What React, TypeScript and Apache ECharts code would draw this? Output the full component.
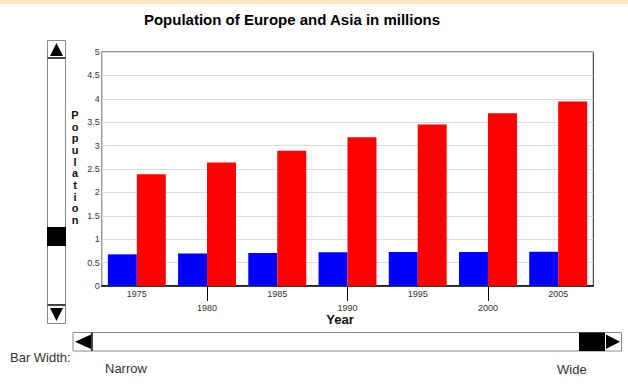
import React, { useEffect, useRef } from "react";
import * as echarts from "echarts";

const years = ["1975", "1980", "1985", "1990", "1995", "2000", "2005"];
const europe = [0.676, 0.692, 0.706, 0.72, 0.727, 0.728, 0.731];
const asia = [2.39, 2.64, 2.89, 3.18, 3.45, 3.69, 3.94];

const FONT = "'Liberation Sans', Arial, sans-serif";

export default function App() {
  const ref = useRef<HTMLDivElement>(null);
  useEffect(() => {
    document.body.style.margin = "0";
    const chart = echarts.init(ref.current!, null, { renderer: "svg" });
    const txt = (t: string, x: number, y: number, o: any = {}) => ({
      type: "text",
      x,
      y,
      style: {
        text: t,
        fill: o.fill || "#222",
        font: o.font || `13px ${FONT}`,
        textAlign: o.align || "left",
        textVerticalAlign: "middle",
        lineHeight: o.lineHeight,
      },
      z: 10,
    });
    const stroke = { stroke: "#888", lineWidth: 1, fill: "#fff" };
    chart.setOption({
      animation: false,
      grid: {
        left: 101.7,
        right: 34.7,
        top: 52,
        bottom: 99,
        show: true,
        borderColor: "#222",
        borderWidth: 1,
      },
      xAxis: [
        {
          type: "category",
          data: years,
          position: "bottom",
          axisLine: { lineStyle: { color: "#000", width: 1.5 } },
          axisTick: { show: false },
          axisLabel: {
            interval: (i: number) => i % 2 === 0,
            margin: 3,
            fontSize: 9,
            color: "#333",
            fontFamily: FONT,
          },
          splitLine: { show: false },
        },
        {
          type: "category",
          data: years,
          position: "bottom",
          axisLine: { show: false },
          axisTick: {
            show: true,
            alignWithLabel: true,
            interval: (i: number) => i % 2 === 1,
            length: 15,
            lineStyle: { color: "#000" },
          },
          axisLabel: {
            interval: (i: number) => i % 2 === 1,
            margin: 17,
            fontSize: 9,
            color: "#333",
            fontFamily: FONT,
          },
          splitLine: { show: false },
        },
      ],
      yAxis: {
        type: "value",
        min: 0,
        max: 5,
        interval: 0.5,
        axisLine: { show: true, lineStyle: { color: "#999" } },
        axisTick: { show: false },
        axisLabel: { fontSize: 9, color: "#333", margin: 2, fontFamily: FONT },
        splitLine: { lineStyle: { color: "#ddd" } },
      },
      series: [
        {
          type: "bar",
          name: "Europe",
          data: europe,
          xAxisIndex: 0,
          itemStyle: { color: "#0000ff" },
          barGap: "0%",
          barCategoryGap: "17.5%",
        },
        {
          type: "bar",
          name: "Asia",
          data: asia,
          xAxisIndex: 0,
          itemStyle: { color: "#ff0000" },
          barGap: "0%",
          barCategoryGap: "17.5%",
        },
      ],
      graphic: [
        { type: "rect", shape: { x: 0, y: 0, width: 628, height: 4 }, style: { fill: "#fce4be" } },
        txt("Population of Europe and Asia in millions", 292, 19, {
          font: `bold 15px ${FONT}`,
          align: "center",
          fill: "#000",
        }),
        txt("Year", 340, 319, { font: `bold 13px ${FONT}`, align: "center", fill: "#111" }),
        txt("P\no\np\nu\nl\na\nt\ni\no\nn", 75, 167.5, {
          font: `bold 11px ${FONT}`,
          align: "center",
          fill: "#111",
          lineHeight: 11.7,
        }),
        // vertical scrollbar
        { type: "rect", shape: { x: 47.5, y: 40.5, width: 18, height: 283 }, style: stroke },
        { type: "line", shape: { x1: 47.5, y1: 58, x2: 65.5, y2: 58 }, style: { stroke: "#444", lineWidth: 2 } },
        { type: "line", shape: { x1: 47.5, y1: 305, x2: 65.5, y2: 305 }, style: { stroke: "#444", lineWidth: 2 } },
        { type: "polygon", shape: { points: [[56.5, 43], [50, 56], [63, 56]] }, style: { fill: "#000" } },
        { type: "polygon", shape: { points: [[50, 308], [63, 308], [56.5, 321]] }, style: { fill: "#000" } },
        { type: "rect", shape: { x: 47, y: 227, width: 19, height: 19 }, style: { fill: "#000" } },
        // horizontal scrollbar
        { type: "rect", shape: { x: 73, y: 332.5, width: 548.5, height: 18.5 }, style: stroke },
        { type: "line", shape: { x1: 92, y1: 332.5, x2: 92, y2: 351 }, style: { stroke: "#444", lineWidth: 2 } },
        { type: "polygon", shape: { points: [[75, 341.7], [91, 334.5], [91, 349]] }, style: { fill: "#000" } },
        { type: "rect", shape: { x: 579, y: 332.5, width: 26, height: 18.5 }, style: { fill: "#000" } },
        { type: "polygon", shape: { points: [[606, 334.5], [606, 349], [620, 341.7]] }, style: { fill: "#000" } },
        txt("Bar Width:", 10, 357.7, { fill: "#333" }),
        txt("Narrow", 105, 368.3, { fill: "#333" }),
        txt("Wide", 557, 369, { fill: "#333" }),
      ],
    });
    return () => chart.dispose();
  }, []);
  return (
    <div
      ref={ref}
      style={{ position: "absolute", left: 0, top: 0, width: 628, height: 385 }}
    />
  );
}
